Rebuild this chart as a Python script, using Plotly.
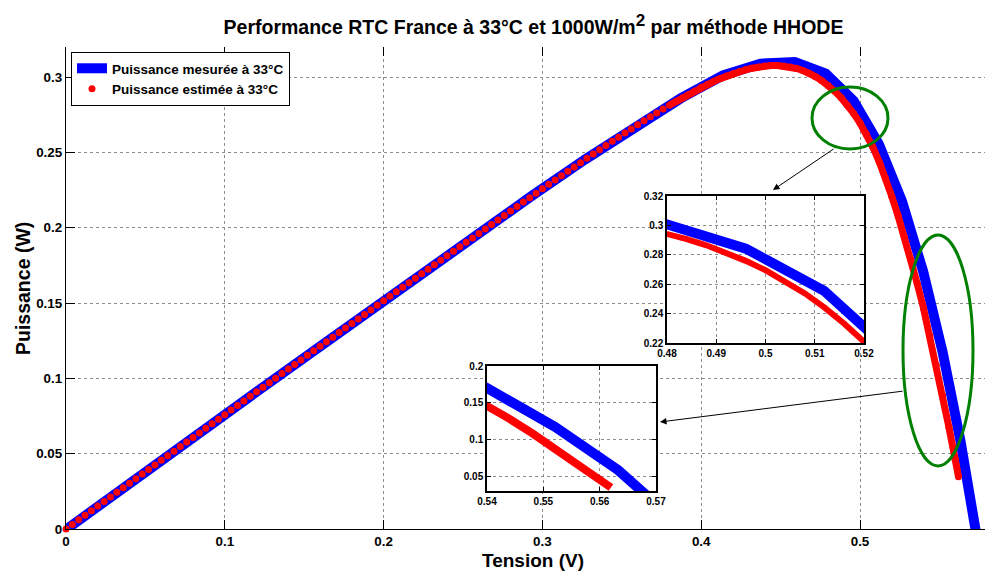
import numpy as np
import plotly.graph_objects as go

# ---------------- data ----------------
# measured power (RTC France cell, 33 °C)
v_mes = [-0.2057, -0.1291, -0.0588, 0.0057, 0.0646, 0.1185, 0.1678, 0.2132, 0.2545,
         0.2924, 0.3269, 0.3585, 0.3873, 0.4137, 0.4373, 0.4590, 0.4784, 0.4960,
         0.5119, 0.5265, 0.5398, 0.5521, 0.5633, 0.5736, 0.5833, 0.5900]
p_mes = [-0.15715, -0.09837, -0.04472, 0.00433, 0.04910, 0.08994, 0.12702, 0.16139, 0.19227,
         0.22047, 0.24534, 0.26762, 0.28602, 0.30117, 0.30895, 0.31005, 0.30235, 0.28421,
         0.25544, 0.21744, 0.17085, 0.11705, 0.05830, -0.00574, -0.07175, -0.12390]

# estimated power (HHODE)
v_est = [0.000, 0.004, 0.008, 0.012, 0.016, 0.020, 0.024, 0.028, 0.032, 0.036,
         0.040, 0.044, 0.048, 0.052, 0.056, 0.060, 0.064, 0.068, 0.072, 0.076,
         0.080, 0.084, 0.088, 0.092, 0.096, 0.100, 0.104, 0.108, 0.112, 0.116,
         0.120, 0.124, 0.128, 0.132, 0.136, 0.140, 0.144, 0.148, 0.152, 0.156,
         0.160, 0.164, 0.168, 0.172, 0.176, 0.180, 0.184, 0.188, 0.192, 0.196,
         0.200, 0.204, 0.208, 0.212, 0.216, 0.220, 0.224, 0.228, 0.232, 0.236,
         0.240, 0.244, 0.248, 0.252, 0.256, 0.260, 0.264, 0.268, 0.272, 0.276,
         0.280, 0.284, 0.288, 0.292, 0.296, 0.300, 0.304, 0.308, 0.312, 0.316,
         0.320, 0.324, 0.328, 0.332, 0.336, 0.340, 0.344, 0.348, 0.352, 0.356,
         0.360, 0.364, 0.368, 0.372, 0.376, 0.380, 0.384, 0.388, 0.392, 0.396,
         0.400, 0.404, 0.408, 0.412, 0.416, 0.420, 0.424, 0.428, 0.432, 0.436,
         0.440, 0.444, 0.448, 0.452, 0.456, 0.460, 0.464, 0.468, 0.472, 0.476,
         0.480, 0.484, 0.488, 0.492, 0.496, 0.500, 0.504, 0.508, 0.512, 0.516,
         0.520, 0.524, 0.528, 0.532, 0.536, 0.540, 0.544, 0.548, 0.552, 0.556,
         0.560, 0.562]
p_est = [0.00000, 0.00304, 0.00608, 0.00912, 0.01216, 0.01521, 0.01824, 0.02128, 0.02432, 0.02736,
         0.03040, 0.03344, 0.03648, 0.03951, 0.04255, 0.04559, 0.04862, 0.05166, 0.05469, 0.05773,
         0.06076, 0.06380, 0.06683, 0.06987, 0.07290, 0.07593, 0.07896, 0.08199, 0.08502, 0.08805,
         0.09107, 0.09410, 0.09713, 0.10015, 0.10318, 0.10620, 0.10922, 0.11225, 0.11527, 0.11829,
         0.12132, 0.12434, 0.12736, 0.13038, 0.13340, 0.13641, 0.13943, 0.14245, 0.14547, 0.14848,
         0.15150, 0.15449, 0.15749, 0.16048, 0.16346, 0.16645, 0.16944, 0.17242, 0.17541, 0.17839,
         0.18137, 0.18435, 0.18732, 0.19030, 0.19327, 0.19625, 0.19922, 0.20219, 0.20516, 0.20813,
         0.21109, 0.21406, 0.21702, 0.21998, 0.22294, 0.22590, 0.22880, 0.23170, 0.23460, 0.23749,
         0.24038, 0.24323, 0.24608, 0.24892, 0.25176, 0.25459, 0.25736, 0.26012, 0.26288, 0.26563,
         0.26838, 0.27100, 0.27361, 0.27621, 0.27880, 0.28139, 0.28378, 0.28615, 0.28851, 0.29086,
         0.29320, 0.29524, 0.29719, 0.29903, 0.30073, 0.30228, 0.30367, 0.30489, 0.30593, 0.30677,
         0.30740, 0.30771, 0.30770, 0.30738, 0.30672, 0.30573, 0.30440, 0.30263, 0.30031, 0.29761,
         0.29445, 0.29071, 0.28648, 0.28154, 0.27589, 0.26952, 0.26220, 0.25372, 0.24404, 0.23315,
         0.22081, 0.20784, 0.19380, 0.17888, 0.16307, 0.14658, 0.12808, 0.10864, 0.08845, 0.06752,
         0.04583, 0.03475]

x_ticks = [0, 0.1, 0.2, 0.3, 0.4, 0.5]
x_tick_text = ["0", "0.1", "0.2", "0.3", "0.4", "0.5"]
y_ticks = [0, 0.05, 0.1, 0.15, 0.2, 0.25, 0.3]
y_tick_text = ["0", "0.05", "0.1", "0.15", "0.2", "0.25", "0.3"]

in1_x_ticks = [0.48, 0.49, 0.5, 0.51, 0.52]
in1_x_text = ["0.48", "0.49", "0.5", "0.51", "0.52"]
in1_y_ticks = [0.22, 0.24, 0.26, 0.28, 0.3, 0.32]
in1_y_text = ["0.22", "0.24", "0.26", "0.28", "0.3", "0.32"]
in2_x_ticks = [0.54, 0.55, 0.56, 0.57]
in2_x_text = ["0.54", "0.55", "0.56", "0.57"]
in2_y_ticks = [0.05, 0.1, 0.15, 0.2]
in2_y_text = ["0.05", "0.1", "0.15", "0.2"]

title_text = ("<b>Performance RTC France à 33°C et 1000W/m"
              "<sup><span style=\"font-size:17px\">2</span></sup> par méthode HHODE</b>")
name_mes = "Puissance mesurée à 33°C"
name_est = "Puissance estimée à 33°C"

# ---------------- figure ----------------
FONT = "Liberation Sans, Arial, sans-serif"
BLUE = "#0000FF"
RED = "#FF0000"
GREEN = "#008000"
GRID = "#8c8c8c"

OFF = 8                       # page body margin of the html page
W, H = 993 - OFF, 574 - OFF
# plot area in reference pixels: left 66, right 993, top 47, bottom 529
ML, MR, MT, MB = 66 - OFF, 0, 47 - OFF, H - (529 - OFF)
PW, PH = W - ML - MR, H - MT - MB


def px2paper_x(px):
    return (px - 66) / PW


def px2paper_y(py):
    return (529 - py) / PH


v_est_a = np.array(v_est)
p_est_a = np.array(p_est)
tail = v_est_a >= 0.38

fig = go.Figure()

# main plot
fig.add_trace(go.Scatter(x=v_mes, y=p_mes, mode="lines", name=name_mes,
                         line=dict(color=BLUE, width=10), xaxis="x", yaxis="y"))
fig.add_trace(go.Scatter(x=v_est_a[tail], y=p_est_a[tail], mode="lines", showlegend=False,
                         line=dict(color=RED, width=7), xaxis="x", yaxis="y"))
fig.add_trace(go.Scatter(x=v_est, y=p_est, mode="markers", name=name_est,
                         marker=dict(color=RED, size=7, line=dict(width=0)),
                         cliponaxis=False, xaxis="x", yaxis="y"))
# dummy trace for top tick axis
fig.add_trace(go.Scatter(x=[], y=[], mode="lines", showlegend=False, xaxis="x2", yaxis="y"))

# inset 1
fig.add_trace(go.Scatter(x=v_mes, y=p_mes, mode="lines", showlegend=False,
                         line=dict(color=BLUE, width=10), xaxis="x3", yaxis="y3"))
fig.add_trace(go.Scatter(x=v_est, y=p_est, mode="lines", showlegend=False,
                         line=dict(color=RED, width=6), xaxis="x3", yaxis="y3"))
# inset 2
fig.add_trace(go.Scatter(x=v_mes, y=p_mes, mode="lines", showlegend=False,
                         line=dict(color=BLUE, width=10), xaxis="x4", yaxis="y4"))
fig.add_trace(go.Scatter(x=v_est, y=p_est, mode="lines", showlegend=False,
                         line=dict(color=RED, width=8), xaxis="x4", yaxis="y4"))

tickfont_main = dict(family=FONT, size=13.4, color="black", weight="bold")
tickfont_inset = dict(family=FONT, size=10, color="black", weight="bold")

main_axis = dict(showline=True, linecolor="black", linewidth=1.2,
                 ticks="inside", ticklen=9, tickwidth=1, tickcolor="black",
                 showgrid=True, gridcolor=GRID, griddash="dot", gridwidth=1,
                 zeroline=False, tickfont=tickfont_main)
inset_axis = dict(showline=True, linecolor="black", linewidth=1.5, mirror="ticks",
                  ticks="inside", ticklen=4, tickwidth=1, tickcolor="black",
                  showgrid=True, gridcolor=GRID, griddash="dot", gridwidth=1,
                  zeroline=False, tickfont=tickfont_inset)

x_max = PW / 1588.0

fig.update_layout(
    width=W, height=H,
    margin=dict(l=ML, r=MR, t=MT, b=MB, autoexpand=False),
    paper_bgcolor="white", plot_bgcolor="white",
    font=dict(family=FONT, color="black"),
    title=dict(text=title_text, x=(533.5 - OFF) / W, xanchor="center",
               xref="container", y=1 - (27 - OFF) / H, yanchor="middle", yref="container",
               font=dict(family=FONT, size=19.5, color="black")),
    showlegend=True,
    legend=dict(x=px2paper_x(71), y=px2paper_y(52), xanchor="left", yanchor="top",
                bgcolor="white", bordercolor="black", borderwidth=1,
                font=dict(family=FONT, size=13.5, color="black", weight="bold"),
                tracegroupgap=0),
    xaxis=dict(main_axis, range=[0, x_max], domain=[0, 1], anchor="y",
               tickvals=x_ticks, ticktext=x_tick_text),
    yaxis=dict(main_axis, range=[0, 0.32], domain=[0, 1], anchor="x",
               tickvals=y_ticks, ticktext=y_tick_text),
    xaxis2=dict(overlaying="x", side="top", matches="x", anchor="y",
                ticks="inside", ticklen=9, tickwidth=1, tickcolor="black",
                tickvals=x_ticks, showticklabels=False, showline=False,
                showgrid=False, zeroline=False),
    xaxis3=dict(inset_axis, range=[0.48, 0.52], anchor="y3",
                domain=[px2paper_x(667), px2paper_x(864)],
                tickvals=in1_x_ticks, ticktext=in1_x_text),
    yaxis3=dict(inset_axis, range=[0.22, 0.32], anchor="x3",
                domain=[px2paper_y(343), px2paper_y(196)],
                tickvals=in1_y_ticks, ticktext=in1_y_text),
    xaxis4=dict(inset_axis, range=[0.54, 0.57], anchor="y4",
                domain=[px2paper_x(487), px2paper_x(656)],
                tickvals=in2_x_ticks, ticktext=in2_x_text),
    yaxis4=dict(inset_axis, range=[0.03, 0.2], anchor="x4",
                domain=[px2paper_y(491), px2paper_y(366)],
                tickvals=in2_y_ticks, ticktext=in2_y_text),
)

shapes = [
    # white backgrounds of the insets (hide the main grid)
    dict(type="rect", xref="x3", yref="y3", x0=0.48, x1=0.52, y0=0.22, y1=0.32,
         fillcolor="white", line=dict(width=0), layer="below"),
    dict(type="rect", xref="x4", yref="y4", x0=0.54, x1=0.57, y0=0.03, y1=0.2,
         fillcolor="white", line=dict(width=0), layer="below"),
    # green ellipses
    dict(type="circle", xref="paper", yref="paper",
         x0=px2paper_x(812), x1=px2paper_x(888), y0=px2paper_y(149), y1=px2paper_y(87),
         line=dict(color=GREEN, width=3), layer="above"),
    dict(type="circle", xref="paper", yref="paper",
         x0=px2paper_x(903), x1=px2paper_x(973), y0=px2paper_y(466), y1=px2paper_y(235),
         line=dict(color=GREEN, width=3), layer="above"),
]
fig.update_layout(shapes=shapes)

annotations = [
    dict(text="<b>Tension (V)</b>", xref="paper", yref="paper",
         x=px2paper_x(532.5), y=px2paper_y(560), xanchor="center", yanchor="middle",
         showarrow=False, font=dict(family=FONT, size=19, color="black")),
    dict(text="<b>Puissance (W)</b>", xref="paper", yref="paper",
         x=px2paper_x(23), y=px2paper_y(289), xanchor="center", yanchor="middle",
         textangle=-90, showarrow=False, font=dict(family=FONT, size=19.5, color="black")),
    dict(text="", xref="paper", yref="paper", x=px2paper_x(773), y=px2paper_y(190),
         ax=62, ay=-42, showarrow=True, arrowhead=2, arrowsize=1.3, arrowwidth=1,
         arrowcolor="black", standoff=0),
    dict(text="", xref="paper", yref="paper", x=px2paper_x(660), y=px2paper_y(422),
         ax=244, ay=-31, showarrow=True, arrowhead=2, arrowsize=1.3, arrowwidth=1,
         arrowcolor="black", standoff=0),
]
fig.update_layout(annotations=annotations)

fig.write_html("out.html")
